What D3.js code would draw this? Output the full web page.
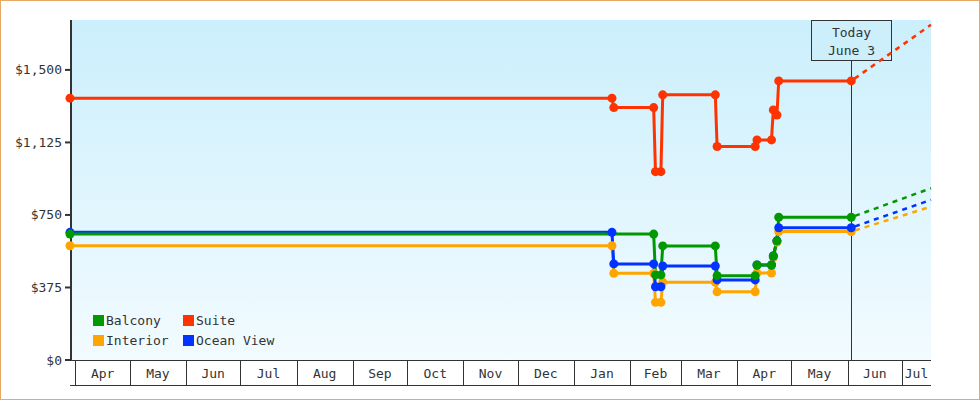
<!DOCTYPE html>
<html>
<head>
<meta charset="utf-8">
<script src="https://cdn.jsdelivr.net/npm/d3@7"></script>
<style>
body { margin: 0; background: #fff; }
text { font-family: "DejaVu Sans Mono", monospace; font-size: 13px; fill: #333; }
</style>
</head>
<body>
<div id="chart"></div>
<script>
// series, drawn in this order (Suite on top)
var seriesNames = ["Interior", "Ocean View", "Balcony", "Suite"];
var seriesColors = ["#ffa500", "#0033ff", "#009900", "#ff3300"];
var legendNames = ["Balcony", "Suite", "Interior", "Ocean View"];

var interiorDates = ["2022-03-29", "2023-01-22", "2023-01-23", "2023-02-14", "2023-02-15", "2023-02-18", "2023-02-19", "2023-03-20", "2023-03-21", "2023-04-11", "2023-04-12", "2023-04-20", "2023-04-21", "2023-04-23", "2023-04-24", "2023-06-03"];
var interiorPrices = [591, 591, 448, 448, 298, 298, 402, 402, 353, 353, 450, 450, 530, 610, 664, 664];

var oceanDates = ["2022-03-29", "2023-01-22", "2023-01-23", "2023-02-14", "2023-02-15", "2023-02-18", "2023-02-19", "2023-03-20", "2023-03-21", "2023-04-11", "2023-04-12", "2023-04-20", "2023-04-21", "2023-04-23", "2023-04-24", "2023-06-03"];
var oceanPrices = [660, 660, 497, 497, 379, 379, 486, 486, 414, 414, 491, 491, 538, 616, 684, 684];

var balconyDates = ["2022-03-29", "2023-02-14", "2023-02-15", "2023-02-18", "2023-02-19", "2023-03-20", "2023-03-21", "2023-04-11", "2023-04-12", "2023-04-20", "2023-04-21", "2023-04-23", "2023-04-24", "2023-06-03"];
var balconyPrices = [651, 651, 440, 440, 590, 590, 436, 436, 491, 491, 538, 616, 738, 738];

var suiteDates = ["2022-03-29", "2023-01-22", "2023-01-23", "2023-02-14", "2023-02-15", "2023-02-18", "2023-02-19", "2023-03-20", "2023-03-21", "2023-04-11", "2023-04-12", "2023-04-20", "2023-04-21", "2023-04-23", "2023-04-24", "2023-06-03"];
var suitePrices = [1354, 1354, 1305, 1305, 974, 974, 1371, 1371, 1104, 1104, 1138, 1138, 1293, 1267, 1443, 1443];

// projected prices at the right edge
var forecastDate = "2023-07-17";
var forecastPrices = [793, 828, 888, 1733];

var todayDate = "2023-06-03";
var todayLabel = ["Today", "June 3"];

var yTicks = [0, 375, 750, 1125, 1500];
var yMax = 1758;

var allDates = [interiorDates, oceanDates, balconyDates, suiteDates];
var allPrices = [interiorPrices, oceanPrices, balconyPrices, suitePrices];

var parse = d3.utcParse("%Y-%m-%d");
var W = 980, H = 400;
var plotLeft = 70, plotRight = 931, plotTop = 20, plotBottom = 360;

var svg = d3.select("#chart").append("svg")
    .attr("width", W)
    .attr("height", H);

var grad = svg.append("defs").append("linearGradient")
    .attr("id", "bg").attr("x1", 0).attr("y1", 0).attr("x2", 0).attr("y2", 1);
grad.append("stop").attr("offset", "0%").attr("stop-color", "#cbeffc");
grad.append("stop").attr("offset", "100%").attr("stop-color", "#f2fbff");

svg.append("rect")
    .attr("x", 0.5).attr("y", 0.5)
    .attr("width", W - 1).attr("height", H - 1)
    .attr("fill", "#fff")
    .attr("stroke", "#e6a966");

var x = d3.scaleUtc()
    .domain([parse(interiorDates[0]), parse(forecastDate)])
    .range([plotLeft, plotRight]);
var y = d3.scaleLinear()
    .domain([0, yMax])
    .range([plotBottom, plotTop]);

svg.append("rect")
    .attr("x", plotLeft).attr("y", plotTop)
    .attr("width", plotRight - plotLeft).attr("height", plotBottom - plotTop)
    .attr("fill", "url(#bg)");

// month cells under the plot
var months = d3.utcMonth.range(d3.utcMonth.floor(x.domain()[0]), x.domain()[1]);
var xa = svg.append("g");
xa.append("line").attr("x1", plotLeft).attr("x2", plotRight).attr("y1", plotBottom + 0.5).attr("y2", plotBottom + 0.5).attr("stroke", "#333");
xa.append("line").attr("x1", plotLeft).attr("x2", plotRight).attr("y1", 385.5).attr("y2", 385.5).attr("stroke", "#333");
months.forEach(function (m) {
    var next = d3.utcMonth.offset(m, 1);
    var x0 = Math.max(x(m), plotLeft), x1 = Math.min(x(next), plotRight);
    if (x(m) > plotLeft + 1) {
        xa.append("line")
            .attr("x1", Math.round(x(m)) + 0.5).attr("x2", Math.round(x(m)) + 0.5)
            .attr("y1", plotBottom).attr("y2", 385)
            .attr("stroke", "#333");
    }
    if (x1 - x0 > 20) {
        xa.append("text")
            .attr("x", (x0 + x1) / 2).attr("y", 378)
            .attr("text-anchor", "middle")
            .text(d3.utcFormat("%b")(m));
    }
});

// y axis
var ya = svg.append("g");
ya.append("line").attr("x1", 71).attr("x2", 71).attr("y1", plotTop).attr("y2", plotBottom + 1)
    .attr("stroke", "#333").attr("stroke-width", 2);
yTicks.forEach(function (v) {
    ya.append("line").attr("x1", 65).attr("x2", 70).attr("y1", y(v)).attr("y2", y(v))
        .attr("stroke", "#333").attr("stroke-width", 2);
    ya.append("text").attr("x", 62).attr("y", y(v) + 4.5)
        .attr("text-anchor", "end")
        .text("$" + d3.format(",")(v));
});

// today marker
var tx = Math.round(x(parse(todayDate))) + 0.5;
svg.append("line").attr("x1", tx).attr("x2", tx).attr("y1", 60).attr("y2", plotBottom)
    .attr("stroke", "#333");
svg.append("rect").attr("x", tx - 40).attr("y", plotTop + 0.5).attr("width", 80).attr("height", 40)
    .attr("fill", "#cdeffc").attr("stroke", "#333");
svg.append("text").attr("x", tx).attr("y", 37).attr("text-anchor", "middle").text(todayLabel[0]);
svg.append("text").attr("x", tx).attr("y", 55).attr("text-anchor", "middle").text(todayLabel[1]);

var line = d3.line()
    .x(function (d) { return x(d[0]); })
    .y(function (d) { return y(d[1]); });

var series = seriesNames.map(function (name, i) {
    return allDates[i].map(function (d, j) { return [parse(d), allPrices[i][j]]; });
});

// projections
series.forEach(function (pts, i) {
    var last = pts[pts.length - 1];
    svg.append("path")
        .datum([last, [parse(forecastDate), forecastPrices[i]]])
        .attr("fill", "none")
        .attr("stroke", seriesColors[i])
        .attr("stroke-width", 2.5)
        .attr("stroke-dasharray", "5,5")
        .attr("stroke-dashoffset", -4)
        .attr("d", line);
});

series.forEach(function (pts, i) {
    svg.append("path")
        .datum(pts)
        .attr("fill", "none")
        .attr("stroke", seriesColors[i])
        .attr("stroke-width", 3)
        .attr("d", line);
});

series.forEach(function (pts, i) {
    svg.append("g").selectAll("circle")
        .data(pts)
        .join("circle")
        .attr("cx", function (d) { return x(d[0]); })
        .attr("cy", function (d) { return y(d[1]); })
        .attr("r", 4.5)
        .attr("fill", seriesColors[i]);
});

// legend
var lg = svg.append("g");
legendNames.forEach(function (name, i) {
    var c = seriesColors[seriesNames.indexOf(name)];
    var lx = 93 + (i % 2) * 90, ly = 315 + Math.floor(i / 2) * 20;
    lg.append("rect").attr("x", lx).attr("y", ly).attr("width", 11).attr("height", 11).attr("fill", c);
    lg.append("text").attr("x", lx + 13).attr("y", ly + 10).text(name);
});
</script>
</body>
</html>
